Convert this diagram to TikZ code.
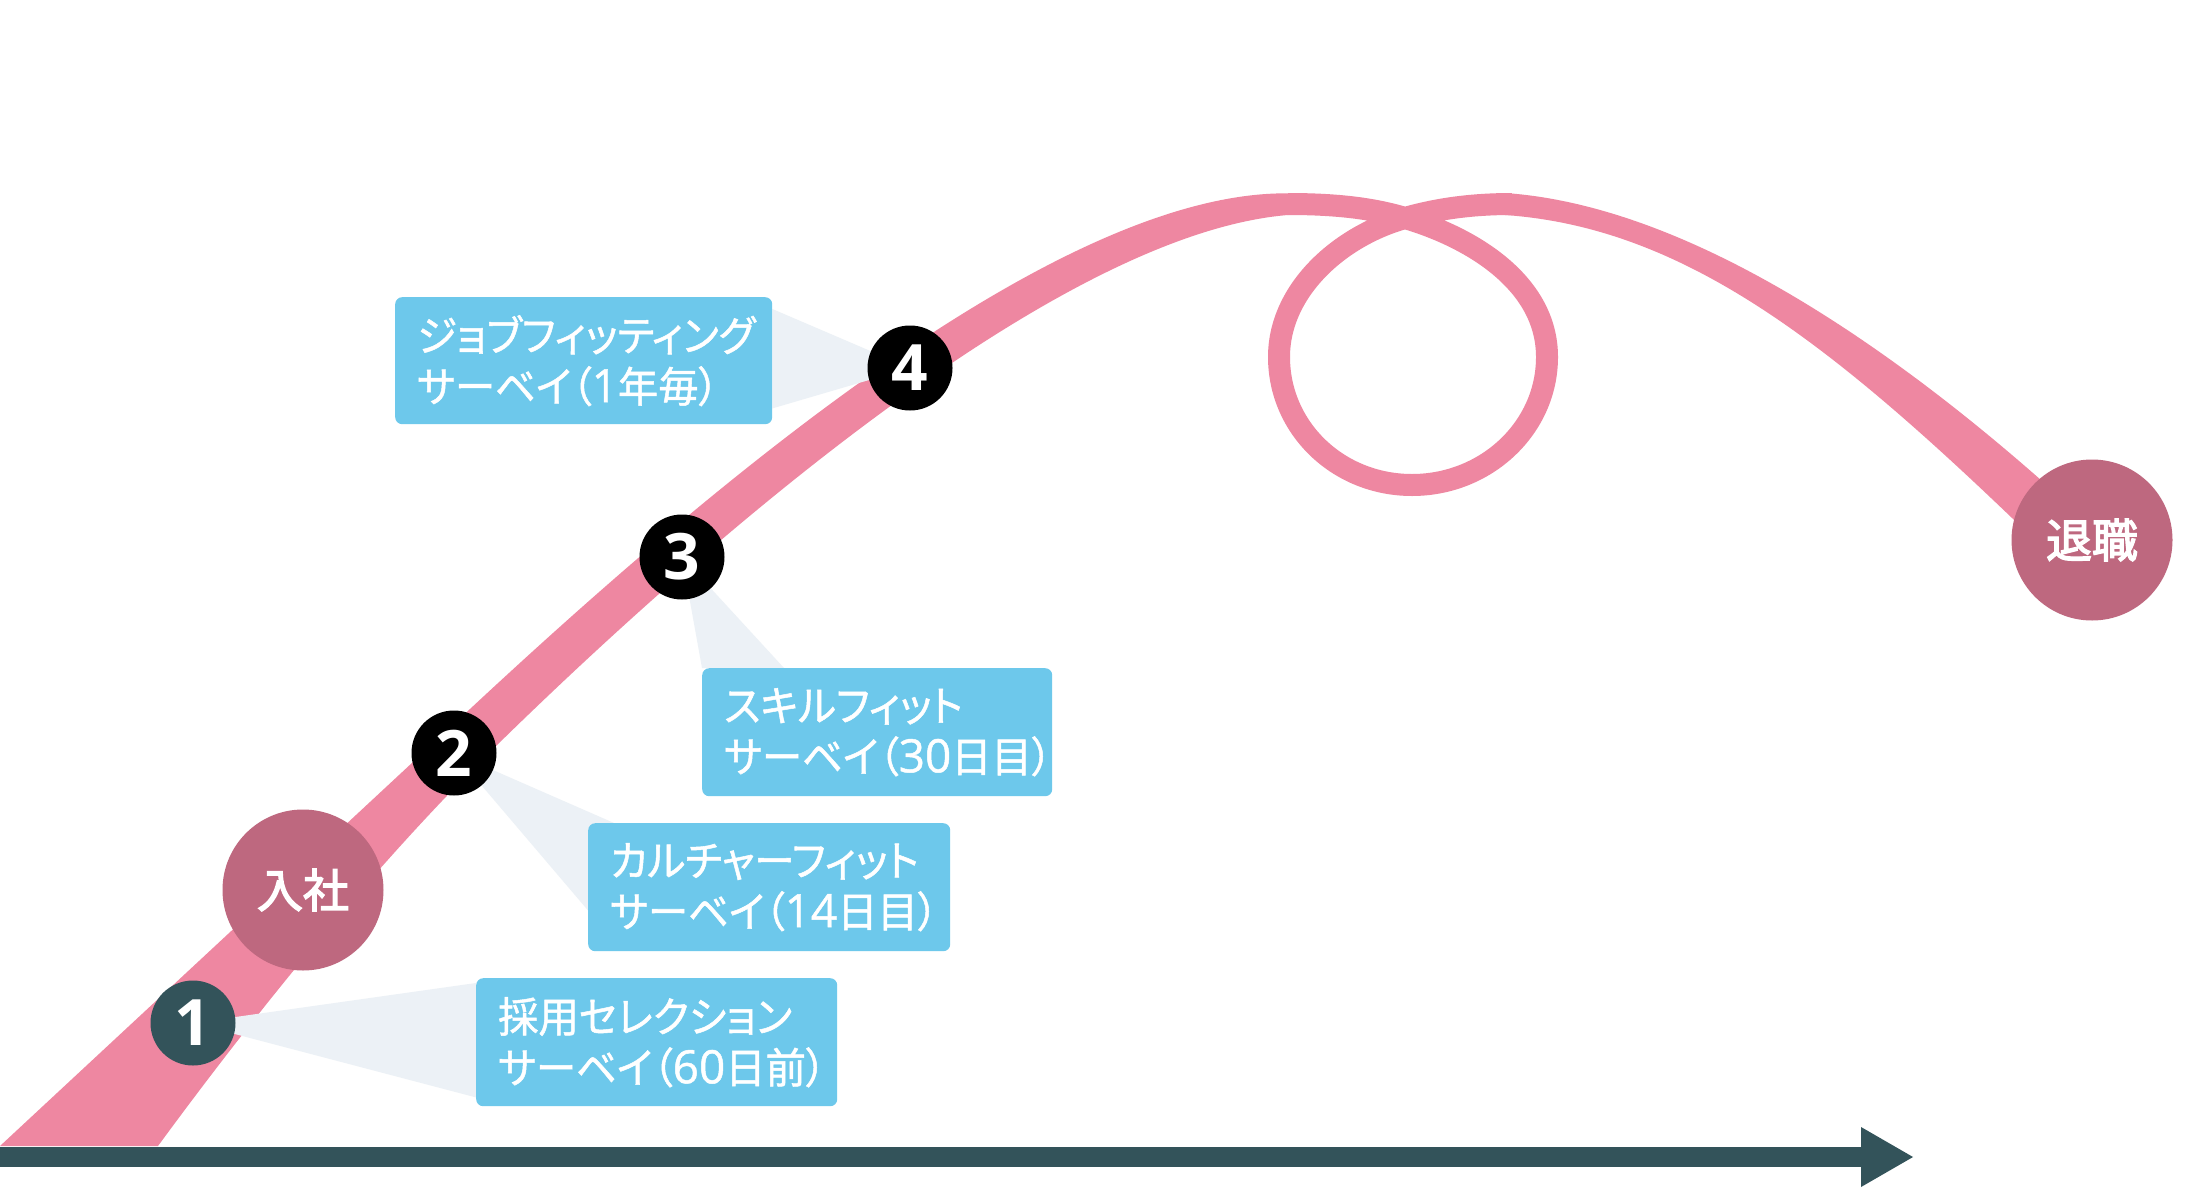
\documentclass[tikz,border=0pt]{standalone}
\usepackage{fontspec}
\newfontfamily\jpfont{Noto Sans CJK JP}[RawFeature=+palt,FakeStretch=0.96,FakeBold=1.2]
\newfontfamily\jpcirc{Noto Sans CJK JP}[FakeBold=3]
\newfontfamily\numfont{Open Sans}
\newfontfamily\boxnumfont{Open Sans}[FakeBold=1]
\newcommand\dg[1]{{\boxnumfont\fontsize{46}{51}\selectfont #1}}
\definecolor{bandpink}{HTML}{EE87A1}
\definecolor{rose}{HTML}{BE687F}
\definecolor{tealdark}{HTML}{33535A}
\definecolor{boxblue}{HTML}{6DC8EB}
\definecolor{callgrey}{HTML}{ECF1F6}
\pgfdeclarelayer{bandlayer}
\pgfdeclarelayer{calloutlayer}
\pgfsetlayers{bandlayer,calloutlayer,main}
\begin{document}
\begin{tikzpicture}[x=1pt,y=-1pt,
  box/.style={rectangle, rounded corners=7pt, fill=boxblue, text=white, anchor=north west,
    inner xsep=22pt, inner ysep=0pt, align=left, minimum height=128pt,
    font=\jpfont\fontsize{42}{51}\selectfont},
  numc/.style={circle, inner sep=0pt, minimum size=85pt, text=white,
    font=\numfont\bfseries\fontsize{64}{64}\selectfont},
  lifec/.style={circle, inner sep=0pt, minimum size=161pt, fill=rose, text=white,
    font=\jpcirc\fontsize{46}{46}\selectfont},
  callout/.style={fill=callgrey},
  bandfill/.style={fill=bandpink},
  bandline/.style={draw=bandpink, line width=22pt}]
\useasboundingbox (0,0) rectangle (2194,1188);

% survey boxes
\node[box, text width=317pt] (b1) at (476,978) {採用セレクション\\サーベイ（\dg{60}日前）};
\node[box, text width=318pt] (b2) at (588,823) {カルチャーフィット\\サーベイ（\dg{14}日目）};
\node[box, text width=306pt] (b3) at (702,668) {スキルフィット\\サーベイ（\dg{30}日目）};
\node[box, text width=333pt, minimum height=127pt] (b4) at (395,297) {ジョブフィッティング\\サーベイ（\dg{1}年毎）};

% life-event circles
\node[lifec] (join) at (303,890) {入社};
\node[lifec] (leave) at (2092,540) {退職};

% numbered circles
\node[numc, fill=tealdark] (c1) at (193,1023) {1};
\node[numc, fill=black] (c2) at (454,753) {2};
\node[numc, fill=black] (c3) at (682,557) {3};
\node[numc, fill=black] (c4) at (910,368) {4};

\begin{pgfonlayer}{calloutlayer}
\fill[callout] (c1.center) -- ([yshift=-5pt]b1.north west) -- ([yshift=9pt]b1.south west) -- cycle;
\fill[callout] (c2.center) -- ([xshift=26pt]b2.north west) -- ([yshift=41pt]b2.south west) -- cycle;
\fill[callout] (c3.center) -- (b3.north west) -- ([xshift=82pt]b3.north west) -- cycle;
\fill[callout] (c4.center) -- ([yshift=-12pt]b4.north east) -- ([yshift=16pt]b4.south east) -- cycle;
\end{pgfonlayer}

\begin{pgfonlayer}{bandlayer}
\fill[white] (0,0) rectangle (2194,1188);
% axis arrow
\fill[tealdark] (0,1147) rectangle (1862,1167);
\fill[tealdark] (1861,1127) -- (1913,1157) -- (1861,1187) -- cycle;
% rising tapered band
\path[bandfill] (0,1146) -- (470,709) .. controls (700,495) and (1060,185) .. (1295,193.5)
  -- (1295,214.5) .. controls (1060,228) and (695,551) .. (495,747)
  .. controls (385,855) and (268,996) .. (158,1146) -- cycle;
% top arc with loop
\draw[bandline] (1288,204) .. controls (1340,204) and (1375,209) .. (1405,218)
  .. controls (1470,237) and (1547,282) .. (1547,357)
  .. controls (1547,428) and (1486,485) .. (1412,485)
  .. controls (1338,485) and (1279,428) .. (1279,357)
  .. controls (1279,290) and (1340,236) .. (1405,218)
  .. controls (1440,208) and (1475,204) .. (1512,204);
% descending tapered band
\path[bandfill] (1505,193) .. controls (1680,205) and (1880,335) .. (2060,497)
  -- (2040,545) .. controls (1840,351) and (1690,228) .. (1505,215) -- cycle;
\end{pgfonlayer}
\end{tikzpicture}
\end{document}
